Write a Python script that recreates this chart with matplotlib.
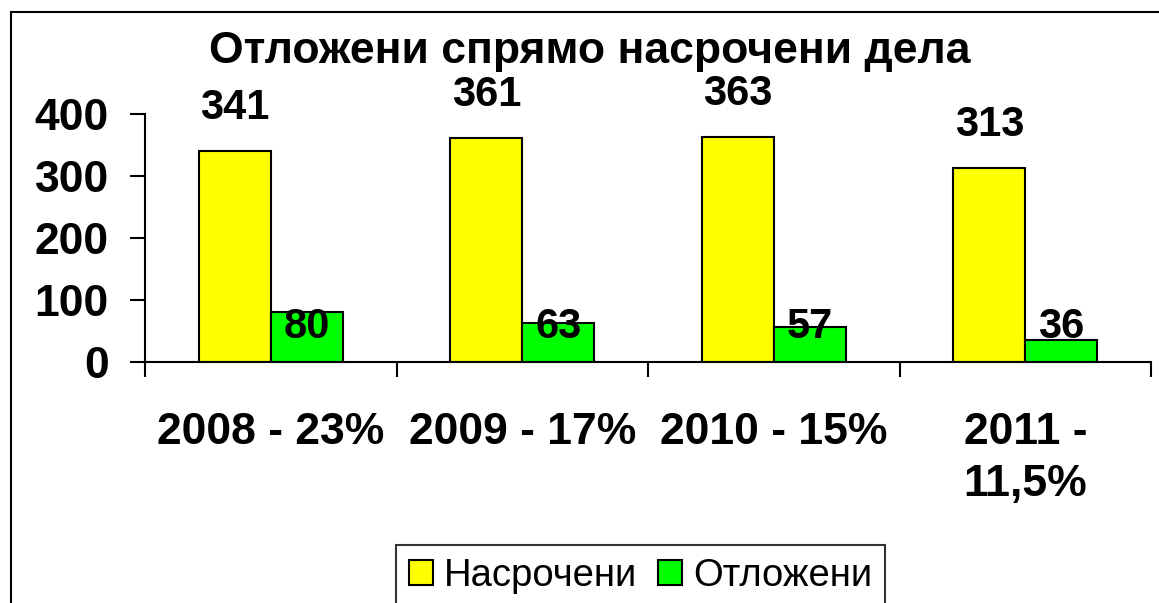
import matplotlib
matplotlib.use('Agg')
import matplotlib.pyplot as plt
import matplotlib.transforms as mtransforms
from matplotlib.lines import Line2D
from matplotlib.patches import Patch
import numpy as np

plt.rcParams['font.family'] = ['Liberation Sans', 'DejaVu Sans']

# данни
categories = ['2008 - 23%', '2009 - 17%', '2010 - 15%', '2011 -\n11,5%']
nasrocheni = [341, 361, 363, 313]
otlojeni = [80, 63, 57, 36]
title = 'Отложени спрямо насрочени дела'
series_names = ['Насрочени', 'Отложени']

fig = plt.figure(figsize=(11.59, 6.03), dpi=100)
ax = fig.add_axes([145 / 1159, 1 - 362 / 603, (1151 - 145) / 1159, (362 - 114) / 603])

x = np.arange(len(categories))
w = 0.286
ax.bar(x - w / 2, nasrocheni, w, color='#ffff00', edgecolor='black', linewidth=1.5)
ax.bar(x + w / 2, otlojeni, w, color='#00ff00', edgecolor='black', linewidth=1.5)

for xi, v in zip(x, nasrocheni):
    ax.annotate(str(v), (xi - w / 2, v), xytext=(0, 31), textcoords='offset points',
                ha='center', va='center', fontsize=30, fontweight='bold')

# етикетите на зелените колони стоят на една височина
trans = mtransforms.blended_transform_factory(ax.transData, ax.transAxes)
for xi, v in zip(x, otlojeni):
    ax.text(xi + w / 2, 0.141, str(v), transform=trans, ha='center', va='center',
            fontsize=30, fontweight='bold')

ax.set_xlim(-0.5, len(categories) - 0.5)
ax.set_ylim(0, 400)
ax.set_yticks([0, 100, 200, 300, 400])
ax.set_xticks(np.arange(len(categories) + 1) - 0.5)
ax.set_xticklabels([])
ax.set_xticks(x, minor=True)
ax.set_xticklabels(categories, minor=True, fontsize=32, fontweight='bold', linespacing=1.34)
ax.tick_params(axis='x', which='minor', length=0, pad=36)
ax.tick_params(axis='x', which='major', length=11, width=1.5, direction='out')
ax.tick_params(axis='y', length=11, width=1.5, pad=15, labelsize=32)
for lab in ax.get_yticklabels():
    lab.set_fontweight('bold')
for s in ['top', 'right']:
    ax.spines[s].set_visible(False)
for s in ['left', 'bottom']:
    ax.spines[s].set_linewidth(1.5)

fig.text(590 / 1159, 1 - 51 / 603, title, ha='center', va='center',
         fontsize=32, fontweight='bold')

handles = [Patch(facecolor='#ffff00', edgecolor='black', linewidth=1.5),
           Patch(facecolor='#00ff00', edgecolor='black', linewidth=1.5)]
leg = fig.legend(handles, series_names, loc='upper left',
                 bbox_to_anchor=(396 / 1159, 1 - 545 / 603), ncol=2, fontsize=27.5,
                 frameon=True, fancybox=False, edgecolor='black', handlelength=0.63,
                 handleheight=0.63, handletextpad=0.28, columnspacing=0.55,
                 borderpad=0.34, borderaxespad=0)
leg.get_frame().set_linewidth(1.5)

# рамка на диаграмата (лява и горна линия)
fig.add_artist(Line2D([11 / 1159, 11 / 1159], [0, 1 - 12 / 603], color='black', lw=1.5))
fig.add_artist(Line2D([11 / 1159, 1], [1 - 12 / 603, 1 - 12 / 603], color='black', lw=1.5))

fig.savefig('out.png', dpi=100)
